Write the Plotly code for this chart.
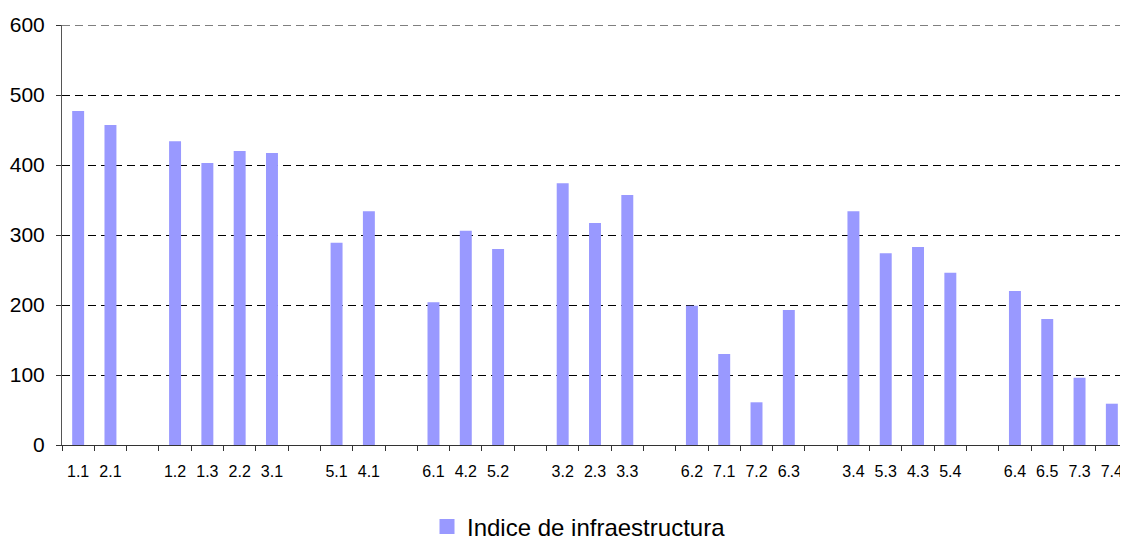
import plotly.graph_objects as go

categories = ["1.1", "2.1", " ", "1.2", "1.3", "2.2", "3.1", "  ", "5.1", "4.1", "   ",
              "6.1", "4.2", "5.2", "    ", "3.2", "2.3", "3.3", "     ",
              "6.2", "7.1", "7.2", "6.3", "      ", "3.4", "5.3", "4.3", "5.4", "       ",
              "6.4", "6.5", "7.3", "7.4"]
values = [477, 457, None, 434, 403, 420, 417, None, 289, 334, None,
          204, 306, 280, None, 374, 317, 357, None,
          199, 130, 61, 193, None, 334, 274, 283, 246, None,
          220, 180, 96, 59]
y_ticks = [0, 100, 200, 300, 400, 500, 600]
series_name = "Indice de infraestructura"
bar_color = "#9999FF"

fig = go.Figure()
fig.add_trace(go.Bar(x=categories, y=values, name=series_name, showlegend=False,
                     marker=dict(color=bar_color, line=dict(width=0))))
# legend entry with a larger square swatch
fig.add_trace(go.Scatter(x=[categories[0]], y=[None], mode="markers", name=series_name,
                         marker=dict(symbol="square", size=15, color=bar_color),
                         hoverinfo="skip"))

# dashed gridline at top of range (plotly hides edge gridlines)
fig.add_shape(type="line", xref="paper", x0=0, x1=1, yref="y",
              y0=y_ticks[-1], y1=y_ticks[-1],
              line=dict(color="black", width=1, dash="8px,5px"))

# page body has an 8px default margin, so the figure is sized/offset to compensate
fig.update_layout(
    width=1120, height=530,
    margin=dict(l=54, r=0, t=17, b=93, autoexpand=False),
    plot_bgcolor="white", paper_bgcolor="white",
    bargap=0.63,
    font=dict(family="Liberation Sans, Arial, sans-serif", color="black"),
    showlegend=True,
    legend=dict(orientation="h", x=0.485, xanchor="center", y=-0.195, yanchor="middle",
                font=dict(size=24)),
    xaxis=dict(type="category", categoryorder="array", categoryarray=categories,
               range=[-0.5, len(categories) - 0.5],
               showgrid=False, showline=True, linecolor="#333333", linewidth=1,
               ticks="outside", ticklen=5, tickcolor="#333333", tickson="boundaries",
               tickfont=dict(size=16), tickangle=0, automargin=False,
               ticklabelstandoff=12),
    yaxis=dict(range=[0, 600], tickvals=y_ticks, showgrid=True, gridcolor="black",
               griddash="8px,5px", gridwidth=1, showline=True, linecolor="#555555",
               linewidth=1, ticks="outside", ticklen=5, tickcolor="#333333",
               tickfont=dict(size=21), zeroline=False, automargin=False,
               ticklabelstandoff=7),
)

fig.write_html("out.html")
